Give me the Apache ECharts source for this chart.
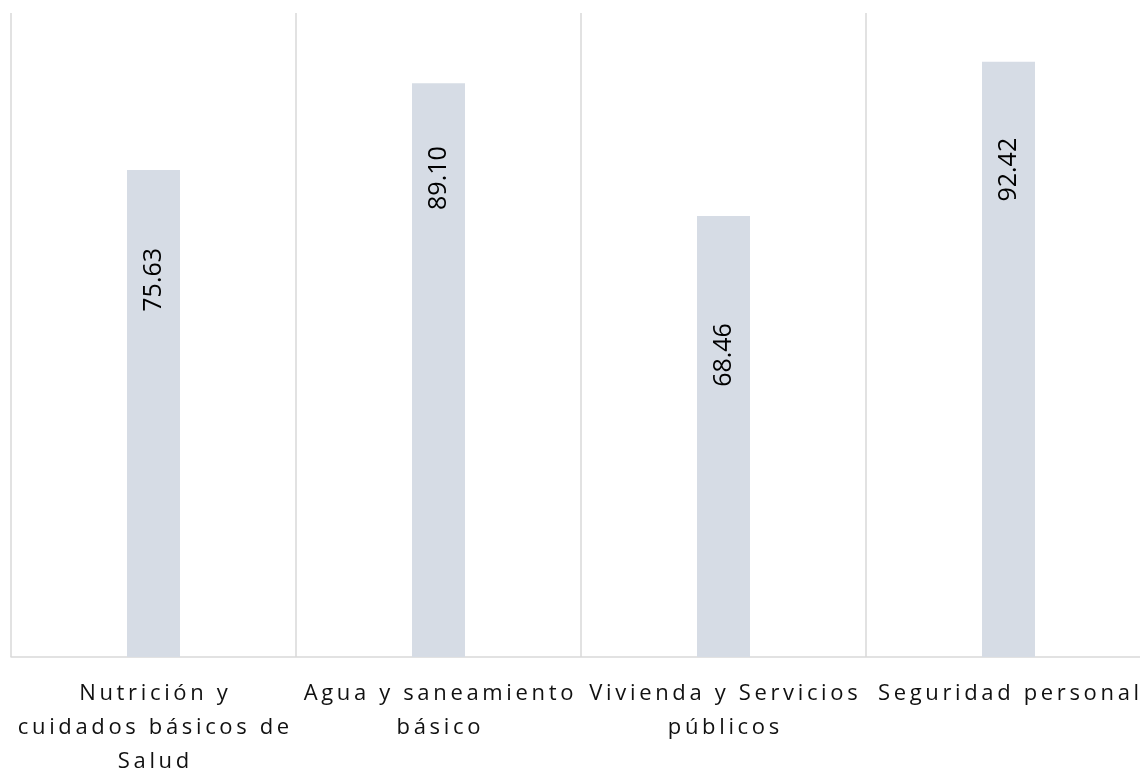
<!DOCTYPE html>
<html>
<head>
<meta charset="utf-8">
<script src="https://cdn.jsdelivr.net/npm/echarts@6/dist/echarts.min.js"></script>
<style>
  html, body { margin: 0; padding: 0; background: #fff; overflow: hidden; }
  #chart { width: 1170px; height: 769px; }
</style>
</head>
<body>
<div id="chart"></div>
<script>
// categorías (con saltos de línea como en el original)
const categorias = [
  'Nutrición y\ncuidados básicos de\nSalud',
  'Agua y saneamiento\nbásico',
  'Vivienda y Servicios\npúblicos',
  'Seguridad personal'
];
const valores = [75.63, 89.10, 68.46, 92.42];

// distancia de cada etiqueta al borde superior de la barra
const separacionEtiqueta = [78, 63, 107, 76];

const chart = echarts.init(document.getElementById('chart'));

// espaciado entre letras como en el gráfico original
const espaciar = (txt) =>
  txt.split('\n').map((l) => l.split('').join('\u2009')).join('\n');

const option = {
  animation: false,
  grid: {
    left: 11, top: 13, width: 1140, height: 644,
    containLabel: false,
    outerBoundsMode: 'none'
  },
  xAxis: {
    type: 'category',
    data: categorias,
    axisLine: { show: true, lineStyle: { color: '#d9d9d9', width: 1.5 } },
    axisTick: { show: false },
    splitLine: { show: true, interval: 0, lineStyle: { color: '#d9d9d9', width: 1.5 } },
    axisLabel: {
      interval: 0,
      margin: 20,
      fontFamily: 'Open Sans',
      fontSize: 22,
      lineHeight: 34,
      color: '#111',
      align: 'center',
      formatter: espaciar
    }
  },
  yAxis: {
    type: 'value',
    min: 0,
    max: 100,
    show: false,
    splitLine: { show: false }
  },
  series: [
    {
      type: 'bar',
      barWidth: 53,
      itemStyle: { color: '#d6dce5' },
      data: valores.map((v, i) => ({
        value: v,
        label: { distance: separacionEtiqueta[i] }
      })),
      label: {
        show: true,
        position: 'insideTop',
        rotate: 90,
        align: 'right',
        verticalAlign: 'middle',
        fontFamily: 'Open Sans',
        fontSize: 25,
        color: '#000',
        formatter: (p) => p.value.toFixed(2)
      }
    }
  ]
};

chart.setOption(option);
</script>
</body>
</html>
